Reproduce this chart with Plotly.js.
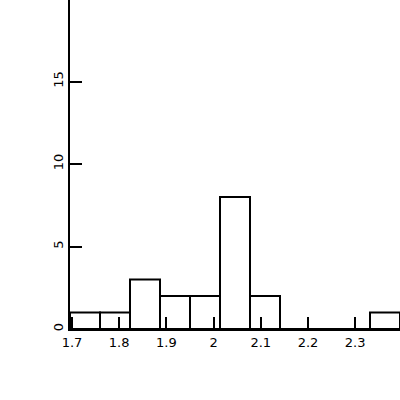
<!DOCTYPE html>
<html>
<head>
<meta charset="utf-8">
<script src="https://cdn.plot.ly/plotly-3.0.1.min.js"></script>
<style>html,body{margin:0;padding:0;background:#fff;}#chart{width:400px;height:400px;}</style>
</head>
<body>
<div id="chart"></div>
<script>
// Histogram bins (left edges) and counts
const binStart = 1.6958;
const binWidth = 0.06356;
const counts = [1, 1, 3, 2, 2, 8, 2, 0, 0, 0, 1];
const xTickVals = [1.7, 1.8, 1.9, 2.0, 2.1, 2.2, 2.3];
const xTickText = ["1.7", "1.8", "1.9", "2", "2.1", "2.2", "2.3"];
const yTickVals = [0, 5, 10, 15];
const yTickText = ["0", "5", "10", "15"];

const centers = counts.map((c, i) => binStart + binWidth * (i + 0.5));

const trace = {
  type: 'bar',
  x: centers,
  y: counts,
  width: counts.map(() => binWidth),
  marker: {color: 'rgba(255,255,255,0)', line: {color: '#000', width: 2}},
  hoverinfo: 'none',
  cliponaxis: false
};

const layout = {
  width: 400, height: 400,
  margin: {l: 70, r: 0, t: 0, b: 71, pad: 0},
  paper_bgcolor: '#fff', plot_bgcolor: '#fff',
  showlegend: false,
  font: {family: 'DejaVu Sans', size: 13, color: '#000'},
  xaxis: {
    range: [binStart, binStart + binWidth * counts.length],
    tickvals: xTickVals, ticktext: xTickText,
    ticks: 'inside', ticklen: 12, tickwidth: 2, tickcolor: '#000',
    showgrid: false, zeroline: false,
    showline: true, linecolor: '#000', linewidth: 2,
    tickfont: {family: 'DejaVu Sans', size: 13, color: '#000'}
  },
  yaxis: {
    range: [0, 19.94],
    tickvals: yTickVals, ticktext: yTickText,
    ticks: 'inside', ticklen: 12, tickwidth: 2, tickcolor: '#000',
    tickangle: -90,
    showgrid: false, zeroline: false,
    showline: true, linecolor: '#000', linewidth: 2,
    tickfont: {family: 'DejaVu Sans', size: 13, color: '#000'}
  }
};

Plotly.newPlot('chart', [trace], layout, {displayModeBar: false, staticPlot: true});
</script>
</body>
</html>
